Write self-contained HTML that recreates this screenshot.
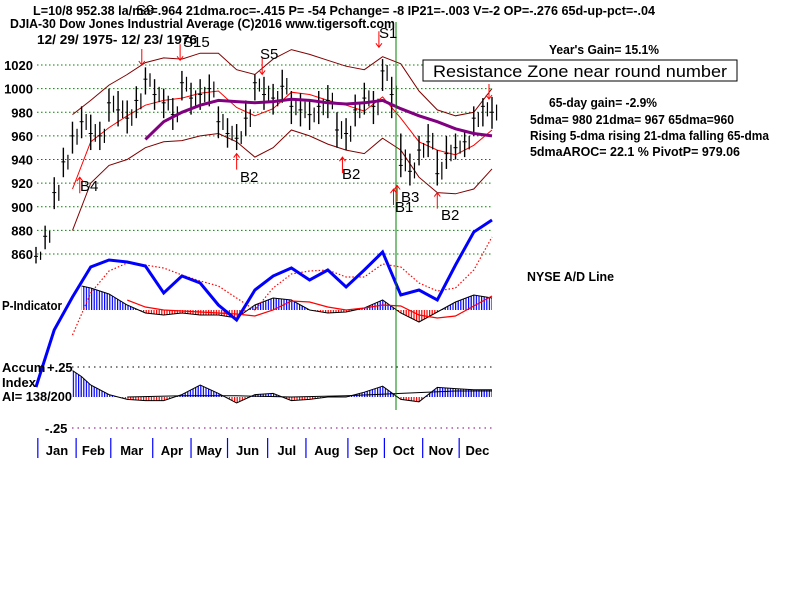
<!DOCTYPE html>
<html><head><meta charset="utf-8"><style>
body{margin:0;background:#fff;width:800px;height:600px;overflow:hidden}
svg{display:block}
text{font-family:"Liberation Sans",sans-serif;font-weight:bold;font-size:13px;fill:#000}
</style></head><body>
<svg id="c" width="800" height="600" viewBox="0 0 800 600">
<defs>
<pattern id="pb" width="2.6" height="4" patternUnits="userSpaceOnUse"><rect width="1.2" height="4" fill="#0000ff"/></pattern>
<pattern id="pr" width="2.6" height="4" patternUnits="userSpaceOnUse"><rect width="1.2" height="4" fill="#ff0000"/></pattern>
<clipPath id="abovP"><rect x="0" y="0" width="800" height="310"/></clipPath>
<clipPath id="belP"><rect x="0" y="310" width="800" height="100"/></clipPath>
<clipPath id="abovA"><rect x="0" y="300" width="800" height="97"/></clipPath>
<clipPath id="belA"><rect x="0" y="397" width="800" height="60"/></clipPath>
</defs>
<g>
<text x="33" y="15" textLength="622" lengthAdjust="spacingAndGlyphs">L=10/8  952.38  la/ma=.964 21dma.roc=-.415 P= -54 Pchange= -8 IP21=-.003 V=-2 OP=-.276 65d-up-pct=-.04</text>
<text x="10" y="28" textLength="385" lengthAdjust="spacingAndGlyphs">DJIA-30  Dow Jones Industrial Average   (C)2016 www.tigersoft.com</text>
<text x="37" y="44" textLength="160" lengthAdjust="spacingAndGlyphs">12/ 29/ 1975- 12/ 23/ 1976</text>
</g>
<g id="grid"></g>
<g id="plot"></g>
<g>
<text x="549" y="54" textLength="110" lengthAdjust="spacingAndGlyphs">Year's Gain= 15.1%</text>
<text x="549" y="107" textLength="108" lengthAdjust="spacingAndGlyphs">65-day gain= -2.9%</text>
<text x="530" y="124" textLength="204" lengthAdjust="spacingAndGlyphs">5dma= 980 21dma= 967 65dma=960</text>
<text x="530" y="140" textLength="239" lengthAdjust="spacingAndGlyphs">Rising 5-dma  rising 21-dma  falling 65-dma</text>
<text x="530" y="156" textLength="210" lengthAdjust="spacingAndGlyphs">5dmaAROC= 22.1 %  PivotP= 979.06</text>
<text x="527" y="281" textLength="87" lengthAdjust="spacingAndGlyphs">NYSE A/D Line</text>
</g>
<g>
<rect x="423" y="60" width="314" height="21" fill="#fff" stroke="#000" stroke-width="1"/>
<text x="433" y="77" textLength="294" lengthAdjust="spacingAndGlyphs" style="font-weight:normal;font-size:17px">Resistance Zone near round number</text>
</g>
<g>
<text x="2" y="310" textLength="60" lengthAdjust="spacingAndGlyphs">P-Indicator</text>
<text x="2" y="372">Accum</text>
<text x="2" y="387">Index</text>
<text x="2" y="401" textLength="70" lengthAdjust="spacingAndGlyphs">AI= 138/200</text>
<text x="47" y="372">+.25</text>
<text x="45" y="433">-.25</text>
</g>
</svg>
<script>
// ---- data ----
const priceTicks=[1020,1000,980,960,940,920,900,880,860];
const priceDays=[0,5,10,15,20,25,30,35,40,45,50,55,60,65,70,75,80,85,90,95,100,105,110,115,120,125,130,135,140,145,150,155,160,165,170,175,180,185,190,195,200,205,210,215,220,225,230,235,240,245,250];
const closes=[858,875,912,938,960,972,962,960,988,982,975,990,1008,995,988,978,1005,992,995,1000,972,962,958,975,1005,995,992,1002,985,982,978,985,990,965,962,982,992,985,1015,995,935,930,948,955,928,945,950,955,975,985,980];
const highs=[866,884,925,950,972,985,978,972,1000,998,990,1002,1018,1008,1000,992,1015,1005,1008,1012,985,975,970,990,1012,1010,1004,1016,998,996,990,998,1003,980,975,995,1005,998,1025,1010,962,945,960,970,948,960,962,965,985,992,993];
const lows=[852,864,898,925,945,958,948,948,972,968,962,975,995,982,975,965,990,978,982,985,958,950,948,960,990,982,978,988,970,968,965,970,975,950,948,968,978,970,998,975,925,918,935,942,918,932,940,942,960,968,966];
const bandDays=[20,30,40,50,60,70,80,90,100,110,120,130,140,150,160,170,180,190,200,210,220,230,240,250];
const upperBand=[978,990,1003,1012,1022,1026,1025,1030,1030,1016,1012,1025,1033,1029,1024,1019,1016,1027,1021,998,982,977,980,1000];
const lowerBand=[880,920,935,940,950,955,956,960,962,955,942,950,965,960,953,948,945,958,948,925,912,911,915,932];
const ma21=[915,955,967,977,986,990,992,996,998,984,977,983,997,995,990,986,981,993,975,955,948,944,952,965];
const ma65Days=[60,70,80,90,100,110,120,130,140,150,160,170,180,190,200,210,220,230,240,250];
const ma65=[957,972,980,986,990,989,988,989,991,990,988,987,988,990,983,977,972,966,962,960];
const adDays=[0,10,20,30,40,50,60,70,80,90,100,110,120,130,140,150,160,170,180,190,200,210,220,230,240,250];
const adLine=[13,70,103,133,140,138,134,107,124,117,95,80,110,124,132,120,130,113,130,148,105,110,100,135,168,180];
const adMA=[65,107,129,137,135,132,125,119,114,102,90,112,126,129,130,123,123,136,133,117,109,112,130,163];
const pDays=[25,30,40,50,60,70,80,90,100,110,120,130,140,150,160,170,180,190,200,210,220,230,240,250];
const pInd=[24,22,16,5,-3,-5,-3,-5,-5,-8,5,12,10,0,-3,-2,2,10,-3,-12,-2,8,15,12];
const pMADays=[50,60,70,80,90,100,110,120,130,140,150,160,170,180,190,200,210,220,230,240,250];
const pMA=[10,3,0,-1,-2,-3,-4,-6,0,9,8,3,0,2,5,4,-5,-8,-6,4,14];
const aiDays=[20,25,30,40,50,60,70,80,90,100,110,120,130,140,150,160,170,180,190,200,210,220,230,240,250];
const accum=[0.22,0.17,0.1,0.02,-0.02,-0.03,-0.03,0.02,0.1,0.03,-0.05,0.02,0.03,-0.03,-0.02,0,0,0.04,0.09,-0.02,-0.04,0.08,0.07,0.06,0.06];
const aiMADays=[50,80,110,140,170,200,230,250];
const aiMA=[0.0,0.01,0.01,0.0,0.01,0.03,0.05,0.05];
const months=["Jan","Feb","Mar","Apr","May","Jun","Jul","Aug","Sep","Oct","Nov","Dec"];
const monthStart=[1,22,41,64,85,105,127,148,171,191,212,232,252];
// ---- axes ----
const xD=d=>36+d*1.824;
const yP=p=>65+(1020-p)*1.18125;
const yAD=v=>400-v;
const yPI=v=>310-v;
const yAI=v=>397-v*120;
const NS="http://www.w3.org/2000/svg";
const svg=document.getElementById('c'),plot=document.getElementById('plot'),grid=document.getElementById('grid');
function mk(tag,at,parent){const e=document.createElementNS(NS,tag);for(const k in at)e.setAttribute(k,at[k]);(parent||plot).appendChild(e);return e;}
function pts(ds,vs,fy){return ds.map((d,i)=>xD(d).toFixed(1)+','+fy(vs[i]).toFixed(1)).join(' ');}
priceTicks.forEach(t=>{
 const l=mk('line',{x1:37,x2:492,y1:yP(t),y2:yP(t),stroke:'#008000','stroke-dasharray':'1.5,2.5'},grid);
 
 
 const tx=mk('text',{x:33,y:yP(t)+5,'text-anchor':'end'},grid);tx.textContent=t;
 
 
});
[[367,'#000'],[428,'#800080']].forEach(([y,c])=>{const l=mk('line',{x1:72,x2:492,y1:y,y2:y,stroke:c,'stroke-dasharray':'1.5,4'});
 
 });
[[upperBand,'#800000','upper-band'],[lowerBand,'#800000','lower-band'],[ma21,'#ff0000','ma21-line']].forEach(([a,c,n])=>{
 const p=mk('polyline',{points:pts(bandDays,a,yP),fill:'none',stroke:c,'stroke-width':1});
 
 
});
priceDays.forEach((d,i)=>{
 const x=xD(d);
 const b=mk('line',{x1:x,x2:x,y1:yP(highs[i]),y2:yP(lows[i]),stroke:'#000','stroke-width':1.4});
 
 
 const x2=xD(d+2.5);
 const b2=mk('line',{x1:x2,x2:x2,y1:yP(Math.max(closes[i],(highs[i]+closes[i])/2)),y2:yP((lows[i]+closes[i])/2),stroke:'#000','stroke-width':1.2});
 
 
 const t=mk('line',{x1:x-2,x2:x+2,y1:yP(closes[i]),y2:yP(closes[i]),stroke:'#000','stroke-width':1});
 
 
});
const m65=mk('polyline',{points:pts(ma65Days,ma65,yP),fill:'none',stroke:'#800080','stroke-width':3});


function hist(ds,vs,fy,base,ca,cb,name){
 const poly=xD(ds[0])+','+base+' '+pts(ds,vs,fy)+' '+xD(ds[ds.length-1])+','+base;
 const a=mk('polygon',{points:poly,fill:'url(#pb)','clip-path':'url(#'+ca+')'});
 
 
 const b=mk('polygon',{points:poly,fill:'url(#pr)','clip-path':'url(#'+cb+')'});
 
 
 const l=mk('polyline',{points:pts(ds,vs,fy),fill:'none',stroke:'#000','stroke-width':1});
 
 
}
hist(pDays,pInd,yPI,310,'abovP','belP','p-indicator');
const pm=mk('polyline',{points:pts(pMADays,pMA,yPI),fill:'none',stroke:'#ff0000','stroke-width':1.2});


hist(aiDays,accum,yAI,397,'abovA','belA','accum-index');
const am=mk('polyline',{points:pts(aiMADays,aiMA,yAI),fill:'none',stroke:'#000','stroke-width':1});


const adm=mk('polyline',{points:pts(adDays.slice(2),adMA,yAD),fill:'none',stroke:'#ff0000','stroke-width':1.2,'stroke-dasharray':'1.5,2'});


const ad=mk('polyline',{points:pts(adDays,adLine,yAD),fill:'none',stroke:'#0000ff','stroke-width':3});


const vl=mk('line',{x1:396,x2:396,y1:22,y2:410,stroke:'#008000','stroke-width':1});


const sigLabels=["S9","S15","S5","S1","B4","B2","B2","B2","B3","B1"];
const sigDays=[58,79,124,188,24,110,168,220,198,196];
const sigPrice=[1020,1024,1012,1035,925,945,942,912,918,915];
const sigSell=[1,1,1,1,0,0,0,0,0,0];
const labelPos=[[136,15],[183,47],[260,59],[379,38],[80,191],[240,182],[342,179],[441,220],[401,202],[395,212]];
sigDays.forEach((d,i)=>{
 const x=xD(d),y=yP(sigPrice[i]);
 const s=sigSell[i];
 const a=mk('path',{d:s?`M${x},${y-16}V${y}M${x-3},${y-4}L${x},${y}L${x+3},${y-4}`:`M${x},${y+16}V${y}M${x-3},${y+4}L${x},${y}L${x+3},${y+4}`,stroke:'#ff0000',fill:'none','stroke-width':1});
 
 
 const t=mk('text',{x:labelPos[i][0],y:labelPos[i][1],style:'font-weight:normal;font-size:15px'});t.textContent=sigLabels[i];
 
 
});
const ra=mk('path',{d:`M489,84V99M486,95L489,99L492,95`,stroke:'#ff0000',fill:'none'});


monthStart.forEach((d,i)=>{
 const x=xD(d);
 if(i<months.length){
  const l=mk('line',{x1:x,x2:x,y1:438,y2:458,stroke:'#0000ff','stroke-width':1.2});
  
  
  const t=mk('text',{x:(x+xD(monthStart[i+1]))/2,y:455,'text-anchor':'middle'});t.textContent=months[i];
  
  
 }
});
</script>
</body></html>
